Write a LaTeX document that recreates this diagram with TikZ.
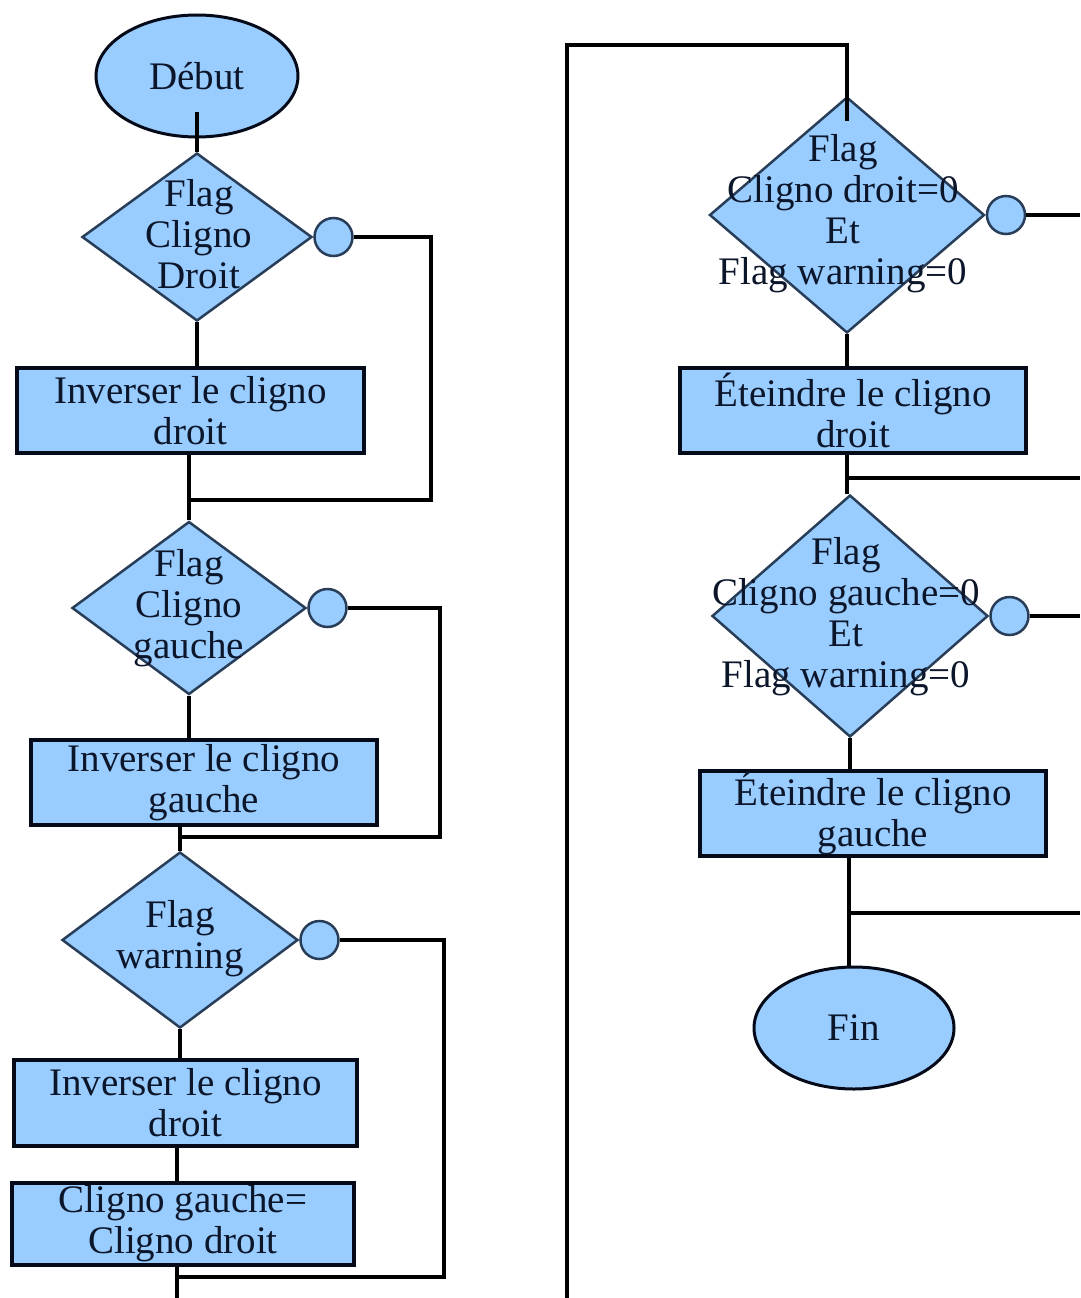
\documentclass[tikz,border=0pt]{standalone}
\usepackage{fontspec}
\setmainfont{Liberation Serif}
\usetikzlibrary{shapes.geometric,calc}
\definecolor{boxfill}{RGB}{153,204,255}
\definecolor{edgeline}{RGB}{40,62,88}
\definecolor{boxline}{RGB}{5,10,25}
\definecolor{inktext}{RGB}{12,22,42}

\begin{document}
\begin{tikzpicture}[x=1pt,y=-1pt,
  every node/.style={font=\fontsize{39}{41}\selectfont, text=inktext, align=center, inner sep=0pt},
  term/.style={ellipse, draw=boxline, fill=boxfill, line width=3pt},
  decision/.style={diamond, draw=edgeline, fill=boxfill, line width=2.5pt},
  action/.style={rectangle, draw=boxline, fill=boxfill, line width=3.5pt},
  plug/.style={circle, draw=edgeline, fill=boxfill, line width=2.5pt, minimum size=38pt, anchor=west},
  flow/.style={draw=black, line width=3.5pt}]

\fill[white] (0,0) rectangle (1080,1298);
\useasboundingbox (0,0) rectangle (1080,1298);

% ---------- left column ----------
\node[term, minimum width=202pt, minimum height=122pt] (deb) at (197,76) {Début};

\node[decision, minimum width=230pt, minimum height=168pt] (d1) at (197,237) {};
\node (d1t) at (199,234) {Flag\\Cligno\\Droit};
\node[plug] (c1) at (d1.east) {};

\node[action, minimum width=347pt, minimum height=85pt] (r1) at (190.5,410.5) {Inverser le cligno\\droit};

\node[decision, minimum width=234pt, minimum height=173pt] (d2) at (189,608) {};
\node (d2t) at (189,608) {Flag\\Cligno\\gauche};
\node[plug] (c2) at (d2.east) {};

\node[action, minimum width=346pt, minimum height=85pt] (r2) at (204,782.5) {Inverser le cligno\\gauche};

\node[decision, minimum width=236pt, minimum height=176pt] (d3) at (180,940) {};
\node (d3t) at (180,939) {Flag\\warning};
\node[plug] (c3) at (d3.east) {};

\node[action, minimum width=343pt, minimum height=86pt] (r3) at (185.5,1103) {Inverser le cligno\\droit};
\node[action, minimum width=342pt, minimum height=82pt] (r4) at (183,1224) {Cligno gauche=\\Cligno droit};

\coordinate (j1) at (189,500);
\coordinate (j2) at (180,837);
\coordinate (j3) at (177,1277);
\coordinate (pageL) at (177,1298);

\draw[flow] ([yshift=27pt]deb.south) -- (d1.north);
\draw[flow] (d1.south) -- (d1.south |- r1.north);
\draw[flow] (d2.north |- r1.south) -- (d2.north);
\draw[flow] (c1.east) -- ++(77,0) |- (j1);

\draw[flow] (d2.south) -- (d2.south |- r2.north);
\draw[flow] (d3.north |- r2.south) -- (d3.north);
\draw[flow] (c2.east) -- ++(92,0) |- (j2);

\draw[flow] (d3.south) -- (d3.south |- r3.north);
\draw[flow] (pageL |- r3.south) -- (pageL |- r4.north);
\draw[flow] (pageL |- r4.south) -- (pageL);
\draw[flow] (c3.east) -- ++(104,0) |- (j3);

% ---------- right column ----------
\coordinate (edge) at (1080,0);
\coordinate (pageR) at (567,1298);

\node[decision, minimum width=275pt, minimum height=236pt] (d4) at (847,215) {};
\node (d4t) at (843,214) {Flag\\Cligno droit=0\\Et\\Flag warning=0};
\node[plug] (c4) at (d4.east) {};

\node[action, minimum width=346pt, minimum height=85pt] (r5) at (853,410.5) {Éteindre le cligno\\droit};

\node[decision, minimum width=276pt, minimum height=242pt] (d5) at (850,616) {};
\node (d5t) at (846,617) {Flag\\Cligno gauche=0\\Et\\Flag warning=0};
\node[plug] (c5) at (d5.east) {};

\node[action, minimum width=346pt, minimum height=85pt] (r6) at (873,813.5) {Éteindre le cligno\\gauche};

\node[term, minimum width=200pt, minimum height=122pt] (fin) at (854,1028) {Fin};

\coordinate (j4) at (847,478);
\coordinate (j5) at (849,913);

\draw[flow] (pageR) -- ++(0,-1253) -| ([yshift=-25pt]d4.north);
\draw[flow] (c4.east) -- (c4.east -| edge);
\draw[flow] (d4.south) -- (d4.south |- r5.north);
\draw[flow] (j4 |- r5.south) -- (j4 |- d5.north);
\draw[flow] (j4) -- (j4 -| edge);
\draw[flow] (c5.east) -- (c5.east -| edge);
\draw[flow] (d5.south) -- (d5.south |- r6.north);
\draw[flow] (j5 |- r6.south) -- (j5 |- fin.north);
\draw[flow] (j5) -- (j5 -| edge);
\end{tikzpicture}
\end{document}
